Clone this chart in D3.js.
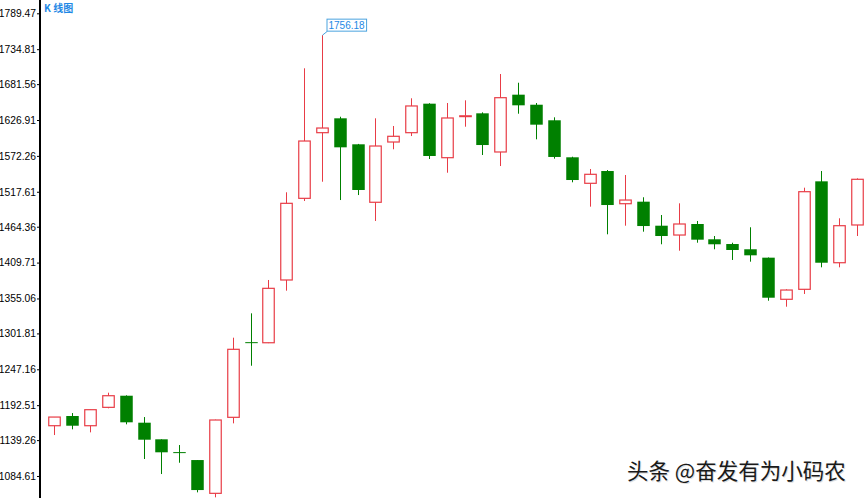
<!DOCTYPE html>
<html>
<head>
<meta charset="utf-8">
<script src="https://cdn.jsdelivr.net/npm/d3@7"></script>
<style>
  html, body { margin: 0; padding: 0; background: #fff; }
  svg { display: block; }
</style>
</head>
<body>
<svg id="chart" width="866" height="498"></svg>
<script>
const categories = d3.range(1, 47);
const openV  = [1161.2,1176.0,1161.2,1189.2,1206.9,1165.8,1140.5,1121.0,1108.9,1058.2,1174.0,1288.5,1287.6,1383.2,1507.6,1607.6,1629.5,1589.9,1501.6,1593.4,1607.6,1651.8,1569.5,1633.0,1637.1,1578.2,1665.5,1650.2,1626.5,1570.1,1530.5,1549.2,1499.4,1502.5,1465.9,1451.7,1468.5,1445.2,1438.0,1430.0,1417.2,1353.8,1369.0,1533.5,1409.5,1467.0];
const closeV = [1174.4,1161.2,1185.6,1206.9,1166.4,1139.9,1120.7,1120.7,1063.2,1169.9,1277.6,1288.3,1370.5,1500.0,1594.9,1614.7,1585.3,1520.3,1587.3,1602.1,1648.3,1572.1,1630.0,1633.3,1588.8,1660.9,1649.3,1619.8,1570.6,1535.5,1544.2,1497.4,1505.0,1465.4,1450.2,1468.5,1444.6,1437.6,1428.9,1420.8,1356.2,1367.9,1517.7,1409.5,1465.9,1536.6];
const highV  = [1174.4,1180.5,1185.6,1211.5,1207.5,1174.4,1140.5,1131.8,1108.9,1170.5,1295.3,1332.4,1383.2,1516.8,1705.7,1756.18,1631.9,1590.5,1629.5,1617.8,1660.0,1652.5,1652.8,1656.9,1638.6,1697.0,1683.7,1652.8,1631.0,1571.0,1552.3,1550.7,1543.1,1509.2,1482.2,1500.0,1473.1,1450.2,1440.0,1463.5,1417.5,1369.0,1523.8,1549.2,1477.2,1538.0];
const lowV   = [1147.0,1155.7,1151.1,1187.7,1163.3,1110.5,1087.6,1104.8,1059.7,1052.1,1164.8,1252.6,1287.0,1366.9,1503.5,1532.9,1505.0,1512.6,1473.1,1582.3,1602.5,1567.5,1546.6,1616.7,1573.6,1556.8,1636.5,1597.5,1568.0,1532.0,1494.9,1452.8,1465.9,1456.8,1437.6,1427.8,1440.0,1430.0,1413.7,1411.1,1351.6,1342.5,1361.9,1402.5,1402.5,1450.2];
const tickValues = [1789.47,1734.81,1681.56,1626.91,1572.26,1517.61,1464.36,1409.71,1355.06,1301.81,1247.16,1192.51,1139.26,1084.61];
const tickLabels = ["1789.47","1734.81","1681.56","1626.91","1572.26","1517.61","1464.36","1409.71","1355.06","1301.81","1247.16","1192.51","1139.26","1084.61"];
const titleText = "K 线图";
const maxLabel = "1756.18";
const watermark = "头条 @奋发有为小码农";

const W = 866, H = 498;
const RED = "#e83c46", GREEN = "#008000", BLUE = "#1e88e5";
const svg = d3.select("#chart");

const y = d3.scaleLinear().domain([1051.09, 1809.73]).range([H, 0]);
const x = d3.scalePoint().domain(categories).range([54.3, 857.1]);
const bodyW = 11.5;

const data = categories.map((c, i) => ({c, o: openV[i], cl: closeV[i], h: highV[i], l: lowV[i]}));

// axis
const axis = d3.axisLeft(y).tickValues(tickValues)
  .tickFormat((d, i) => tickLabels[i]).tickSize(3).tickPadding(1);
const gAxis = svg.append("g").attr("transform", "translate(40,0)").call(axis);
gAxis.select(".domain").remove();
gAxis.selectAll(".tick line").attr("stroke", "#000");
gAxis.selectAll(".tick text").attr("fill", "#000")
  .style("font-family", "'Liberation Sans', Arial, sans-serif").style("font-size", "10.3px");
svg.append("line").attr("x1", 40).attr("x2", 40).attr("y1", 0).attr("y2", H)
  .attr("stroke", "#000").attr("stroke-width", 2);

// candles
const g = svg.append("g");
data.forEach(d => {
  const up = d.cl >= d.o;
  const col = up ? RED : GREEN;
  const cx = Math.round(x(d.c)) + 0.5;
  g.append("line").attr("x1", cx).attr("x2", cx)
    .attr("y1", y(d.h)).attr("y2", y(d.l)).attr("stroke", col).attr("stroke-width", 1);
  const top = y(Math.max(d.o, d.cl)), bot = y(Math.min(d.o, d.cl));
  const hgt = Math.max(bot - top, 0.8);
  if (up) {
    g.append("rect").attr("x", cx - bodyW / 2).attr("y", top).attr("width", bodyW).attr("height", hgt)
      .attr("fill", "#fff").attr("stroke", col).attr("stroke-width", 1.2);
  } else {
    g.append("rect").attr("x", cx - bodyW / 2 - 0.5).attr("y", top).attr("width", bodyW + 1).attr("height", Math.max(hgt, 1))
      .attr("fill", col);
  }
});

// max annotation
const maxIdx = highV.indexOf(d3.max(highV));
const mx = Math.round(x(categories[maxIdx])) + 0.5, my = y(highV[maxIdx]);
svg.append("line").attr("x1", mx).attr("y1", my).attr("x2", mx + 5).attr("y2", my - 4)
  .attr("stroke", "#4aa3df").attr("stroke-width", 1);
const ann = svg.append("g");
const box = ann.append("rect");
const lbl = ann.append("text").attr("x", mx + 6).attr("y", my - 6.5)
  .attr("fill", BLUE).style("font-family", "'Liberation Sans', Arial, sans-serif").style("font-size", "10px")
  .text(maxLabel);
const bb = lbl.node().getBBox();
box.attr("x", bb.x - 1.5).attr("y", my - 16).attr("width", bb.width + 3).attr("height", 12)
  .attr("fill", "#fff").attr("stroke", "#4aa3df").attr("stroke-width", 1);

// title
svg.append("text").attr("x", 44).attr("y", 12).attr("fill", BLUE)
  .style("font-family", "'Noto Sans CJK SC', sans-serif").style("font-size", "10px").style("font-weight", "bold")
  .text(titleText);

// watermark
const wm = svg.append("g").style("font-family", "'Noto Sans CJK SC', sans-serif").style("font-size", "21.5px");
wm.append("text").attr("x", 628).attr("y", 480).attr("fill", "#ddd").text(watermark);
wm.append("text").attr("x", 627).attr("y", 479).attr("fill", "#1a1a1a").text(watermark);
</script>
</body>
</html>
